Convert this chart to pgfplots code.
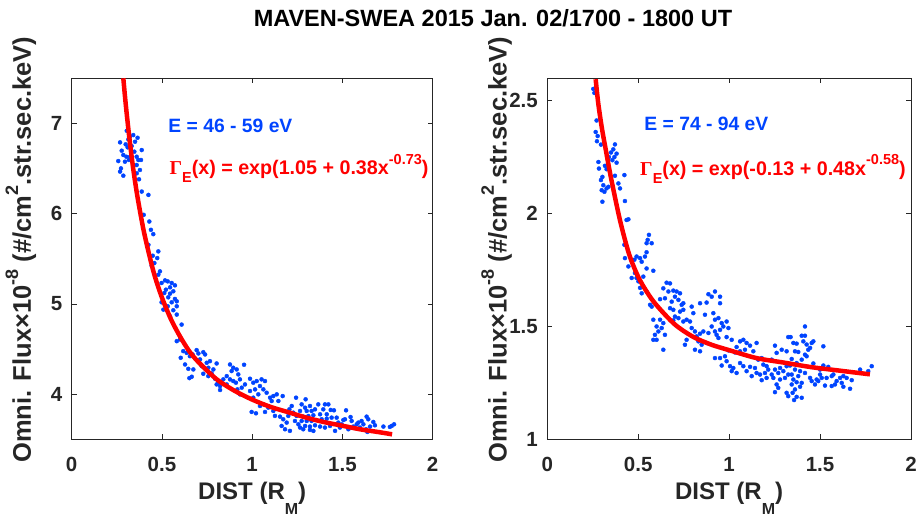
\documentclass[border=0pt]{standalone}
\usepackage{fontspec}
\setmainfont{Liberation Sans}
\newfontfamily\serifgr{Liberation Serif}
\usepackage{pgfplots}
\pgfplotsset{compat=1.18}
\definecolor{dotblue}{RGB}{0,68,255}
\definecolor{axgray}{gray}{0.15}
\newcommand\lsup[1]{\raisebox{0.5em}{\fontsize{18}{18}\selectfont #1}}
\newcommand\lsub[1]{\raisebox{-0.6em}{\fontsize{16}{16}\selectfont #1}}
\newcommand\fsup[1]{\raisebox{0.55em}{\fontsize{14.5}{14.5}\selectfont #1}}
\newcommand\fsub[1]{\raisebox{-0.4em}{\fontsize{14.5}{14.5}\selectfont #1}}

\pgfplotsset{
  panel/.style={
    scale only axis, height=361pt, clip mode=individual,
    xmin=0, xmax=2, xtick={0,0.5,1,1.5,2},
    axis line style={axgray, line width=0.8pt},
    every tick/.style={axgray, line width=0.8pt},
    major tick length=5pt, tick align=inside,
    /pgf/number format/assume math mode=true,
    tick label style={font=\fontsize{20.5}{24}\selectfont\bfseries, text=axgray},
    xticklabel style={anchor=base, yshift=-32pt},
    yticklabel style={xshift=-6pt},
    label style={font=\fontsize{24}{28}\selectfont\bfseries, text=axgray},
    xlabel style={at={(axis description cs:0.5,0)}, anchor=base, yshift=-60.7pt},
    ylabel style={font=\fontsize{25.5}{30}\selectfont\bfseries},
    xlabel={DIST (R\lsub{M})},
    ylabel={Omni. Flux×10\lsup{-8} (\#/cm\lsup{2}.str.sec.keV)},
  },
  scat/.style={only marks, color=dotblue, mark=*, mark size=2pt,
    mark options={solid, fill=dotblue, draw=none}},
  fitline/.style={red, line width=4.5pt, smooth, mark=none},
}
\tikzset{intext/.style={font=\fontsize{19.3}{23}\selectfont\bfseries, anchor=base west, inner sep=0pt}}

\begin{document}
\begin{tikzpicture}
\useasboundingbox (-71.7pt,-78.7pt) rectangle (850.3pt,439.3pt);

\node[font=\fontsize{23.5}{28}\selectfont\bfseries, anchor=base] at (421.3pt,412.6pt)
  {MAVEN-SWEA 2015 Jan. 02/1700 - 1800 UT};

% left panel: E = 46 - 59 eV
\begin{axis}[panel, at={(0pt,0pt)}, width=361pt,
  ymin=3.5, ymax=7.5, ytick={4,5,6,7},
  ylabel style={at={(axis description cs:-0.113,0.525)}, anchor=base}]
\addplot[scat] coordinates {
(0.305,6.919)(0.341,6.871)(0.365,6.841)(0.323,6.852)(0.314,6.823)(0.268,6.790)(0.299,6.768)(0.351,6.797)
(0.332,6.749)(0.310,6.735)(0.277,6.698)(0.388,6.705)(0.347,6.687)(0.286,6.650)(0.303,6.631)(0.323,6.631)
(0.360,6.631)(0.369,6.595)(0.384,6.595)(0.258,6.583)(0.295,6.576)(0.317,6.595)(0.360,6.539)(0.273,6.502)
(0.378,6.484)(0.268,6.466)(0.360,6.447)(0.286,6.421)(0.373,6.381)(0.388,6.245)(0.425,6.208)(0.399,5.987)
(0.430,5.913)(0.439,5.821)(0.452,5.773)(0.425,5.655)(0.449,5.534)(0.480,5.582)(0.474,5.508)(0.458,5.453)
(0.443,5.423)(0.489,5.361)(0.480,5.324)(0.517,5.261)(0.498,5.232)(0.532,5.250)(0.554,5.232)(0.572,5.206)
(0.545,5.184)(0.522,5.158)(0.563,5.140)(0.513,5.121)(0.545,5.114)(0.535,5.073)(0.572,5.055)(0.498,5.018)
(0.554,5.018)(0.582,5.029)(0.532,4.974)(0.582,4.974)(0.508,4.937)(0.563,4.930)(0.582,4.882)(0.545,4.863)
(0.609,4.771)
(0.582,4.587)(0.600,4.606)(0.618,4.477)(0.637,4.458)(0.604,4.403)(0.655,4.421)(0.692,4.488)(0.702,4.451)
(0.729,4.465)(0.739,4.440)(0.670,4.440)(0.628,4.329)(0.646,4.281)(0.674,4.274)(0.652,4.178)(0.665,4.193)
(0.711,4.385)(0.720,4.311)(0.748,4.348)(0.757,4.293)(0.766,4.366)(0.785,4.274)(0.803,4.340)(0.729,4.226)
(0.757,4.200)(0.775,4.230)(0.794,4.171)(0.812,4.127)(0.822,4.090)(0.803,4.108)(0.822,4.046)(0.840,4.164)
(0.859,4.200)(0.877,4.329)(0.895,4.293)(0.886,4.256)(0.914,4.274)(0.923,4.219)(0.955,4.326)(0.877,4.164)
(0.895,4.145)(0.910,4.127)(0.932,4.164)(0.960,4.108)(0.942,4.072)(0.918,4.053)(0.859,4.108)(0.932,3.998)
(0.988,4.171)(1.006,4.127)(1.025,4.145)(1.052,4.164)(1.071,4.145)(1.043,4.090)(1.016,4.053)(1.062,4.053)
(0.988,4.035)(1.034,3.998)(1.006,3.961)(1.080,4.016)(1.099,3.961)(1.117,3.979)(1.136,3.998)(1.169,3.979)
(1.108,3.924)(1.145,3.924)(1.062,3.887)(1.089,3.851)(1.043,3.869)(0.997,3.803)(1.021,3.788)(1.071,3.803)
(1.117,3.814)(1.126,3.759)(1.154,3.751)(1.172,3.722)(1.191,3.685)(1.182,3.611)(1.209,3.593)(1.163,3.648)
(1.206,3.832)(1.219,3.869)(1.243,3.961)(1.228,3.795)(1.246,3.759)(1.200,3.759)(1.237,3.703)(1.256,3.666)
(1.296,3.943)(1.274,3.887)(1.293,3.850)(1.320,3.869)(1.265,3.814)(1.302,3.814)(1.329,3.814)(1.348,3.832)
(1.366,3.887)(1.394,3.832)(1.403,3.887)(1.422,3.887)(1.435,3.825)(1.453,3.821)(1.413,3.777)(1.376,3.777)
(1.339,3.766)(1.311,3.758)(1.283,3.751)(1.274,3.703)(1.302,3.703)(1.329,3.703)(1.357,3.714)(1.385,3.722)
(1.413,3.729)(1.440,3.740)(1.468,3.740)(1.293,3.648)(1.320,3.641)(1.348,3.655)(1.376,3.641)(1.403,3.630)
(1.431,3.648)(1.320,3.604)(1.265,3.630)(1.283,3.611)(1.339,3.593)(1.459,3.593)(1.486,3.630)(1.514,3.722)
(1.520,3.821)(1.505,3.714)(1.545,3.747)(1.551,3.703)(1.560,3.641)(1.533,3.611)(1.588,3.685)(1.606,3.703)
(1.616,3.666)(1.597,3.630)(1.634,3.751)(1.643,3.722)(1.671,3.692)(1.680,3.655)(1.653,3.641)(1.638,3.582)
(1.727,3.641)(1.763,3.637)(1.786,3.666)(1.773,3.648)(1.631,3.611)(1.579,3.666)(1.496,3.666)(1.477,3.685)
};
\addplot[fitline] coordinates {
(0.286,7.50)(0.30,7.20)(0.32,6.83)(0.34,6.51)(0.36,6.24)(0.38,6.01)(0.40,5.80)(0.43,5.54)(0.46,5.31)
(0.50,5.07)(0.55,4.83)(0.60,4.64)(0.65,4.48)(0.70,4.36)(0.80,4.17)(0.90,4.04)(1.00,3.94)(1.10,3.86)
(1.20,3.80)(1.30,3.74)(1.40,3.69)(1.50,3.65)(1.60,3.61)(1.70,3.58)(1.775,3.555)
};
\node[intext, text=dotblue] at (axis cs:0.535,6.90) {E = 46 - 59 eV};
\node[intext, text=red, font=\fontsize{19.7}{23}\selectfont\bfseries] at (axis cs:0.541,6.429)
  {{\serifgr Γ}\fsub{E}(x) = exp(1.05 + 0.38x\fsup{-0.73})};
\end{axis}

% right panel: E = 74 - 94 eV
\begin{axis}[panel, at={(475.6pt,0pt)}, width=363.7pt,
  ymin=1, ymax=2.6, ytick={1,1.5,2,2.5},
  ylabel style={at={(axis description cs:-0.112,0.525)}, anchor=base}]
\addplot[scat] coordinates {
(0.253,2.553)(0.259,2.535)(0.271,2.413)(0.266,2.362)(0.277,2.344)(0.273,2.321)(0.295,2.306)(0.372,2.307)
(0.363,2.285)(0.350,2.271)(0.381,2.266)(0.369,2.251)(0.339,2.251)(0.358,2.237)(0.281,2.229)(0.381,2.226)
(0.317,2.212)(0.284,2.200)(0.326,2.197)(0.424,2.171)(0.372,2.168)(0.303,2.163)(0.295,2.149)(0.391,2.134)
(0.308,2.126)(0.336,2.119)(0.326,2.112)(0.400,2.112)(0.299,2.104)(0.314,2.097)(0.303,2.053)(0.427,2.056)
(0.446,1.975)(0.436,1.972)(0.559,1.906)(0.552,1.884)(0.546,1.869)(0.574,1.869)(0.424,1.862)(0.427,1.803)
(0.491,1.810)(0.510,1.803)(0.479,1.796)(0.464,1.791)(0.546,1.829)(0.537,1.810)(0.446,1.766)(0.482,1.737)
(0.464,1.715)(0.491,1.715)(0.501,1.700)(0.510,1.671)
(0.519,1.787)(0.546,1.757)(0.583,1.747)(0.528,1.721)(0.546,1.655)(0.519,1.647)(0.656,1.694)(0.675,1.691)
(0.638,1.669)(0.666,1.655)(0.693,1.659)(0.711,1.655)(0.730,1.647)(0.702,1.632)(0.684,1.610)(0.721,1.618)
(0.748,1.603)(0.739,1.596)(0.565,1.596)(0.574,1.588)(0.620,1.621)(0.647,1.625)(0.675,1.581)(0.693,1.574)
(0.730,1.566)(0.748,1.574)(0.794,1.588)(0.803,1.559)(0.840,1.603)(0.886,1.643)(0.904,1.632)(0.922,1.655)
(0.876,1.606)(0.950,1.632)(0.950,1.603)(0.867,1.552)(0.913,1.559)(0.922,1.530)(0.941,1.537)(0.959,1.515)
(0.986,1.522)(0.968,1.500)(0.996,1.493)(0.950,1.485)(0.904,1.500)(0.922,1.478)(0.931,1.463)(0.886,1.471)
(0.858,1.478)(0.840,1.468)(0.812,1.478)(0.766,1.530)(0.785,1.522)(0.748,1.522)(0.721,1.537)(0.702,1.544)
(0.693,1.527)(0.794,1.493)(0.821,1.456)(0.831,1.434)(0.876,1.427)(0.849,1.419)(0.766,1.441)(0.757,1.419)
(0.812,1.397)(0.840,1.390)(0.583,1.530)(0.620,1.530)(0.638,1.515)(0.601,1.500)(0.629,1.493)(0.611,1.478)
(0.592,1.463)(0.583,1.441)(0.647,1.463)(0.601,1.441)(0.638,1.397)(0.941,1.449)(0.986,1.453)(1.014,1.441)
(1.060,1.434)(1.041,1.409)(1.078,1.441)(1.096,1.427)(1.115,1.415)(1.151,1.427)(1.133,1.390)(1.087,1.397)
(1.060,1.390)(1.032,1.385)(0.996,1.394)(0.977,1.368)(0.950,1.360)(0.922,1.360)(0.986,1.346)(0.959,1.327)
(1.005,1.324)(1.023,1.316)(1.041,1.294)(1.014,1.302)(1.060,1.338)(1.078,1.324)(1.096,1.302)(1.115,1.321)
(1.142,1.316)(1.160,1.353)(1.179,1.360)(1.188,1.331)(1.206,1.324)(1.234,1.353)(1.252,1.415)(1.261,1.383)
(1.289,1.397)(1.316,1.390)(1.325,1.453)(1.151,1.294)(1.124,1.280)(1.170,1.287)(1.197,1.294)(1.215,1.309)
(1.234,1.287)(1.252,1.309)(1.270,1.294)(1.280,1.316)(1.298,1.302)(1.316,1.324)(1.325,1.287)(1.307,1.272)
(1.280,1.265)(1.261,1.243)(1.252,1.209)(1.270,1.228)(1.316,1.206)(1.325,1.191)(1.243,1.272)(1.206,1.272)
(1.179,1.262)
(1.417,1.500)(1.399,1.459)(1.417,1.459)(1.338,1.453)(1.353,1.427)(1.371,1.424)(1.408,1.434)(1.426,1.420)
(1.454,1.427)(1.463,1.434)(1.445,1.405)(1.435,1.397)(1.518,1.412)(1.362,1.390)(1.380,1.387)(1.417,1.375)
(1.426,1.368)(1.399,1.353)(1.463,1.336)(1.344,1.356)(1.371,1.338)(1.335,1.327)(1.362,1.309)(1.390,1.302)
(1.417,1.294)(1.344,1.287)(1.380,1.280)(1.353,1.265)(1.371,1.253)(1.399,1.250)(1.344,1.243)(1.390,1.233)
(1.362,1.221)(1.349,1.206)(1.371,1.188)(1.357,1.174)(1.399,1.184)(1.445,1.272)(1.454,1.258)(1.481,1.265)
(1.509,1.272)(1.472,1.243)(1.490,1.258)(1.500,1.287)(1.518,1.327)(1.545,1.321)(1.536,1.272)(1.564,1.280)
(1.582,1.243)(1.564,1.236)(1.591,1.258)(1.610,1.272)(1.628,1.280)(1.619,1.250)(1.628,1.233)(1.665,1.224)
(1.646,1.272)(1.674,1.262)(1.720,1.309)(1.765,1.302)(1.784,1.324)(1.573,1.287)(1.527,1.238)(1.500,1.309)
};
\addplot[fitline] coordinates {
(0.266,2.596)(0.28,2.49)(0.30,2.38)(0.32,2.29)(0.35,2.16)(0.40,1.97)(0.45,1.82)(0.50,1.72)(0.55,1.65)
(0.60,1.595)(0.70,1.51)(0.80,1.455)(0.90,1.42)(1.00,1.395)(1.15,1.36)(1.30,1.34)(1.45,1.32)(1.60,1.305)
(1.774,1.288)
};
\node[intext, text=dotblue] at (axis cs:0.533,2.368) {E = 74 - 94 eV};
\node[intext, text=red, font=\fontsize{19.7}{23}\selectfont\bfseries] at (axis cs:0.510,2.169)
  {{\serifgr Γ}\fsub{E}(x) = exp(-0.13 + 0.48x\fsup{-0.58})};
\end{axis}
\end{tikzpicture}
\end{document}
